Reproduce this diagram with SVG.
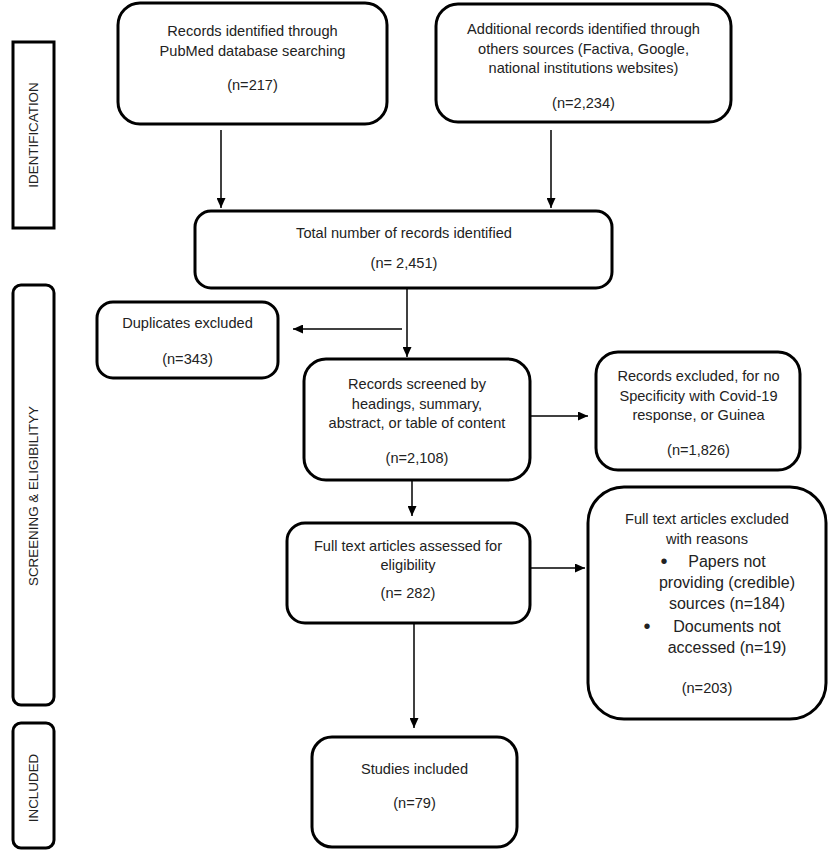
<svg xmlns="http://www.w3.org/2000/svg" width="829" height="852" viewBox="0 0 829 852">
<style>
.box{fill:#fff;stroke:#000;stroke-width:3}
.t{font-family:"Liberation Sans",Arial,sans-serif;font-size:14.6px;fill:#222;text-anchor:middle}
.b{font-size:16px}
.lbl{font-family:"Liberation Sans",Arial,sans-serif;font-size:13.4px;fill:#222;text-anchor:middle;dominant-baseline:central}
.c{fill:none;stroke:#000;stroke-width:1.5}
</style>
<defs>
<marker id="ah" viewBox="0 0 10 10" refX="10" refY="5" markerWidth="10" markerHeight="9" markerUnits="userSpaceOnUse" orient="auto" preserveAspectRatio="none">
<path d="M0,0 L10,5 L0,10 z" fill="#000"/>
</marker>
</defs>
<rect width="829" height="852" fill="#fff"/>
<g id="stage-identification">
<rect class="box" x="13" y="42" width="41" height="186"/>
<text class="lbl" transform="translate(33,135) rotate(-90)">IDENTIFICATION</text>
</g>
<g id="stage-screening">
<rect class="box" x="13" y="285" width="41" height="420" rx="8"/>
<text class="lbl" transform="translate(33,496) rotate(-90)">SCREENING &amp; ELIGIBILITYY</text>
</g>
<g id="stage-included">
<rect class="box" x="13" y="723" width="41" height="125" rx="8"/>
<text class="lbl" transform="translate(33,788) rotate(-90)">INCLUDED</text>
</g>
<g id="connectors">
<path class="c" d="M221,130 V208" marker-end="url(#ah)"/>
<path class="c" d="M551,130 V208" marker-end="url(#ah)"/>
<path class="c" d="M407,288 V357" marker-end="url(#ah)"/>
<path class="c" d="M402,329 H293" marker-end="url(#ah)"/>
<path class="c" d="M530,416 H588" marker-end="url(#ah)"/>
<path class="c" d="M412,480 V516" marker-end="url(#ah)"/>
<path class="c" d="M530,568 H585" marker-end="url(#ah)"/>
<path class="c" d="M414,623 V728" marker-end="url(#ah)"/>
</g>
<g id="pubmed">
<rect class="box" x="118" y="3" width="269" height="121" rx="22"/>
<text class="t" x="252.5" y="36">Records identified through</text>
<text class="t" x="252.5" y="56">PubMed database searching</text>
<text class="t" x="252.5" y="90">(n=217)</text>
</g>
<g id="additional">
<rect class="box" x="436" y="4" width="295" height="118" rx="22"/>
<text class="t" x="583.5" y="34">Additional records identified through</text>
<text class="t" x="583.5" y="54">others sources (Factiva, Google,</text>
<text class="t" x="583.5" y="73">national institutions websites)</text>
<text class="t" x="583.5" y="108">(n=2,234)</text>
</g>
<g id="total">
<rect class="box" x="195" y="211" width="417" height="77" rx="16"/>
<text class="t" x="404" y="238">Total number of records identified</text>
<text class="t" x="404" y="268">(n= 2,451)</text>
</g>
<g id="duplicates">
<rect class="box" x="97" y="302" width="181" height="76" rx="16"/>
<text class="t" x="187.5" y="328">Duplicates excluded</text>
<text class="t" x="187.5" y="364">(n=343)</text>
</g>
<g id="screened">
<rect class="box" x="304" y="359" width="226" height="121" rx="22"/>
<text class="t" x="417" y="389">Records screened by</text>
<text class="t" x="417" y="409">headings, summary,</text>
<text class="t" x="417" y="428">abstract, or table of content</text>
<text class="t" x="417" y="463">(n=2,108)</text>
</g>
<g id="records-excluded">
<rect class="box" x="596" y="352" width="204" height="118" rx="22"/>
<text class="t" x="698.5" y="381">Records excluded, for no</text>
<text class="t" x="698.5" y="401">Specificity with Covid-19</text>
<text class="t" x="698.5" y="420">response, or Guinea</text>
<text class="t" x="698.5" y="455">(n=1,826)</text>
</g>
<g id="fulltext">
<rect class="box" x="287" y="523" width="243" height="100" rx="18"/>
<text class="t" x="408" y="551">Full text articles assessed for</text>
<text class="t" x="408" y="570">eligibility</text>
<text class="t" x="408" y="598">(n= 282)</text>
</g>
<g id="fulltext-excluded">
<rect class="box" x="588" y="487" width="238" height="232" rx="36"/>
<text class="t" x="707" y="524">Full text articles excluded</text>
<text class="t" x="707" y="544">with reasons</text>
<text class="t" x="664" y="568" style="font-size:20px">•</text>
<text class="t b" x="727" y="567">Papers not</text>
<text class="t b" x="727" y="588">providing (credible)</text>
<text class="t b" x="727" y="609">sources (n=184)</text>
<text class="t" x="647" y="633" style="font-size:20px">•</text>
<text class="t b" x="727" y="632">Documents not</text>
<text class="t b" x="727" y="653">accessed (n=19)</text>
<text class="t" x="707" y="693">(n=203)</text>
</g>
<g id="studies">
<rect class="box" x="312" y="737" width="205" height="110" rx="20"/>
<text class="t" x="414.5" y="774">Studies included</text>
<text class="t" x="414.5" y="808">(n=79)</text>
</g>
</svg>
